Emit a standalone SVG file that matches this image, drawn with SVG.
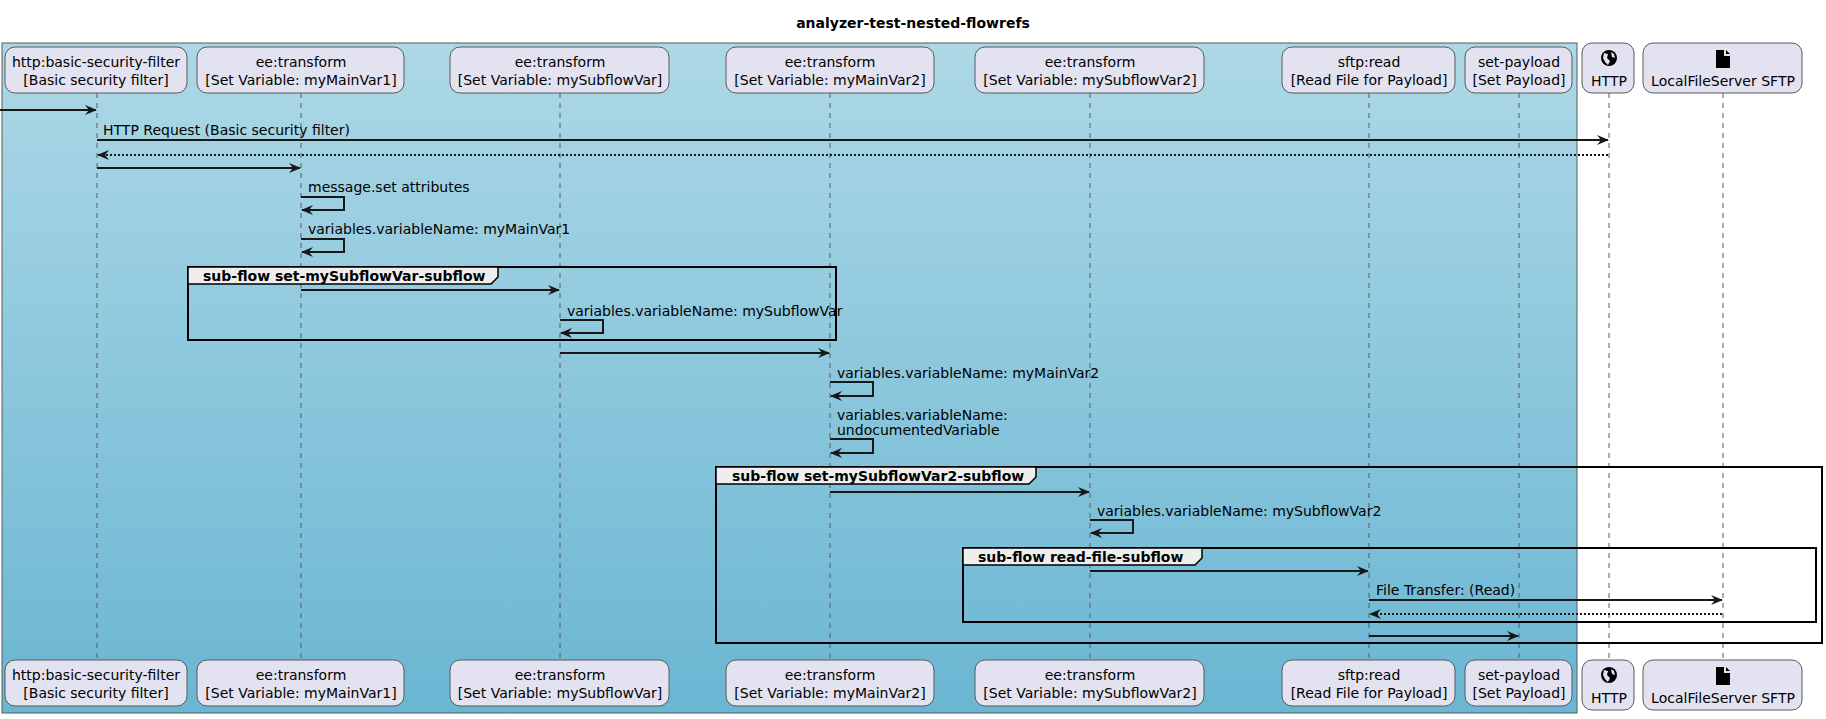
<svg xmlns="http://www.w3.org/2000/svg" width="1826" height="719" viewBox="0 0 1826 719">
<defs>
<linearGradient id="bg" x1="0" y1="0" x2="0" y2="1"><stop offset="0" stop-color="#ADD8E6"/><stop offset="1" stop-color="#6AB6D3"/></linearGradient>
<marker id="ah" viewBox="0 0 12 10" markerWidth="12" markerHeight="10" refX="11" refY="5" orient="auto" markerUnits="userSpaceOnUse"><path d="M0,0 L12,5 L0,10 L4,5 Z" fill="#181818"/></marker>
</defs>
<style>
text{font-family:"DejaVu Sans",sans-serif;font-size:14px;fill:#000}
.p{fill:#E2E2F0;stroke:#5A5A5A;stroke-width:1}
.c{text-anchor:middle}
.ll{stroke:#5A5A5A;stroke-width:1;stroke-dasharray:5,5}
.m{stroke:#181818;stroke-width:2;fill:none;marker-end:url(#ah)}
.d{stroke:#181818;stroke-width:2;fill:none;stroke-dasharray:2,2;marker-end:url(#ah)}
.f{fill:none;stroke:#000;stroke-width:2}
.fh{fill:#EEEEEE;stroke:#000;stroke-width:1.5}
.b{font-weight:bold;font-size:14px}
</style>
<rect width="1826" height="719" fill="#fff"/>
<text x="913" y="28" class="c b">analyzer-test-nested-flowrefs</text>
<rect x="2" y="43" width="1575" height="670" fill="url(#bg)" stroke="#5A5A5A"/>
<g id="lifelines">
<line class="ll" x1="97" y1="93" x2="97" y2="660"/>
<line class="ll" x1="301" y1="93" x2="301" y2="660"/>
<line class="ll" x1="560" y1="93" x2="560" y2="660"/>
<line class="ll" x1="830" y1="93" x2="830" y2="660"/>
<line class="ll" x1="1090" y1="93" x2="1090" y2="660"/>
<line class="ll" x1="1369" y1="93" x2="1369" y2="660"/>
<line class="ll" x1="1519" y1="93" x2="1519" y2="660"/>
<line class="ll" x1="1609" y1="93" x2="1609" y2="660"/>
<line class="ll" x1="1723" y1="93" x2="1723" y2="660"/>
</g>
<g id="p1"><rect class="p" x="5" y="47" width="182" height="46" rx="10"/><text class="c" x="96" y="67">http:basic-security-filter</text><text class="c" x="96" y="85">[Basic security filter]</text>
<rect class="p" x="5" y="660" width="182" height="46" rx="10"/><text class="c" x="96" y="680">http:basic-security-filter</text><text class="c" x="96" y="698">[Basic security filter]</text></g>
<g id="p2"><rect class="p" x="197" y="47" width="207" height="46" rx="10"/><text class="c" x="301" y="67">ee:transform</text><text class="c" x="301" y="85">[Set Variable: myMainVar1]</text>
<rect class="p" x="197" y="660" width="207" height="46" rx="10"/><text class="c" x="301" y="680">ee:transform</text><text class="c" x="301" y="698">[Set Variable: myMainVar1]</text></g>
<g id="p3"><rect class="p" x="450" y="47" width="219" height="46" rx="10"/><text class="c" x="560" y="67">ee:transform</text><text class="c" x="560" y="85">[Set Variable: mySubflowVar]</text>
<rect class="p" x="450" y="660" width="219" height="46" rx="10"/><text class="c" x="560" y="680">ee:transform</text><text class="c" x="560" y="698">[Set Variable: mySubflowVar]</text></g>
<g id="p4"><rect class="p" x="726" y="47" width="208" height="46" rx="10"/><text class="c" x="830" y="67">ee:transform</text><text class="c" x="830" y="85">[Set Variable: myMainVar2]</text>
<rect class="p" x="726" y="660" width="208" height="46" rx="10"/><text class="c" x="830" y="680">ee:transform</text><text class="c" x="830" y="698">[Set Variable: myMainVar2]</text></g>
<g id="p5"><rect class="p" x="975" y="47" width="229" height="46" rx="10"/><text class="c" x="1090" y="67">ee:transform</text><text class="c" x="1090" y="85">[Set Variable: mySubflowVar2]</text>
<rect class="p" x="975" y="660" width="229" height="46" rx="10"/><text class="c" x="1090" y="680">ee:transform</text><text class="c" x="1090" y="698">[Set Variable: mySubflowVar2]</text></g>
<g id="p6"><rect class="p" x="1282" y="47" width="173" height="46" rx="10"/><text class="c" x="1369" y="67">sftp:read</text><text class="c" x="1369" y="85">[Read File for Payload]</text>
<rect class="p" x="1282" y="660" width="173" height="46" rx="10"/><text class="c" x="1369" y="680">sftp:read</text><text class="c" x="1369" y="698">[Read File for Payload]</text></g>
<g id="p7"><rect class="p" x="1465" y="47" width="107" height="46" rx="10"/><text class="c" x="1519" y="67">set-payload</text><text class="c" x="1519" y="85">[Set Payload]</text>
<rect class="p" x="1465" y="660" width="107" height="46" rx="10"/><text class="c" x="1519" y="680">set-payload</text><text class="c" x="1519" y="698">[Set Payload]</text></g>
<g id="p8"><rect class="p" x="1582" y="43" width="52" height="50" rx="10"/><circle cx="1609" cy="58" r="8" fill="#000"/><path d="M1604,53 l4,1 l-1,4 l3,3 l-2,4 l-3,-3 l-2,-4z M1611,52 l3,2 l1,4 l-3,-1z" fill="#E2E2F0"/><text class="c" x="1609" y="86">HTTP</text>
<rect class="p" x="1582" y="660" width="52" height="50" rx="10"/><circle cx="1609" cy="675" r="8" fill="#000"/><path d="M1604,670 l4,1 l-1,4 l3,3 l-2,4 l-3,-3 l-2,-4z M1611,669 l3,2 l1,4 l-3,-1z" fill="#E2E2F0"/><text class="c" x="1609" y="703">HTTP</text></g>
<g id="p9"><rect class="p" x="1643" y="43" width="159" height="50" rx="10"/><path d="M1716,50 h8 v6 h6 v12 h-14z M1726,50 l4,4 h-4z" fill="#000"/><text class="c" x="1723" y="86">LocalFileServer SFTP</text>
<rect class="p" x="1643" y="660" width="159" height="50" rx="10"/><path d="M1716,667 h8 v6 h6 v12 h-14z M1726,667 l4,4 h-4z" fill="#000"/><text class="c" x="1723" y="703">LocalFileServer SFTP</text></g>
<g id="frames">
<rect class="f" x="188" y="267" width="648" height="73"/><path class="fh" d="M188,267 H498 V277 L491,284 H188 Z"/><text class="b" x="203" y="281">sub-flow set-mySubflowVar-subflow</text>
<rect class="f" x="716" y="467" width="1106" height="176"/><path class="fh" d="M716,467 H1036 V477 L1029,484 H716 Z"/><text class="b" x="732" y="481">sub-flow set-mySubflowVar2-subflow</text>
<rect class="f" x="963" y="548" width="853" height="74"/><path class="fh" d="M963,548 H1202 V558 L1195,565 H963 Z"/><text class="b" x="978" y="562">sub-flow read-file-subflow</text>
</g>
<g id="connectors">
<line class="m" x1="0" y1="110" x2="96" y2="110"/>
<text x="103" y="135">HTTP Request (Basic security filter)</text>
<line class="m" x1="97" y1="140" x2="1608" y2="140"/>
<line class="d" x1="1608" y1="155" x2="98" y2="155"/>
<line class="m" x1="97" y1="168" x2="300" y2="168"/>
<text x="308" y="192">message.set attributes</text>
<path class="m" d="M301,197 H344 V210 H302"/>
<text x="308" y="234">variables.variableName: myMainVar1</text>
<path class="m" d="M301,239 H344 V252 H302"/>
<line class="m" x1="301" y1="290" x2="559" y2="290"/>
<text x="567" y="316">variables.variableName: mySubflowVar</text>
<path class="m" d="M560,320 H603 V333 H561"/>
<line class="m" x1="560" y1="353" x2="829" y2="353"/>
<text x="837" y="378">variables.variableName: myMainVar2</text>
<path class="m" d="M830,382 H873 V396 H831"/>
<text x="837" y="420">variables.variableName:</text>
<text x="837" y="435">undocumentedVariable</text>
<path class="m" d="M830,439 H873 V453 H831"/>
<line class="m" x1="830" y1="492" x2="1089" y2="492"/>
<text x="1097" y="516">variables.variableName: mySubflowVar2</text>
<path class="m" d="M1090,520 H1133 V533 H1091"/>
<line class="m" x1="1090" y1="571" x2="1368" y2="571"/>
<text x="1376" y="595">File Transfer: (Read)</text>
<line class="m" x1="1369" y1="600" x2="1722" y2="600"/>
<line class="d" x1="1722" y1="614" x2="1370" y2="614"/>
<line class="m" x1="1369" y1="636" x2="1518" y2="636"/>
</g>
</svg>
